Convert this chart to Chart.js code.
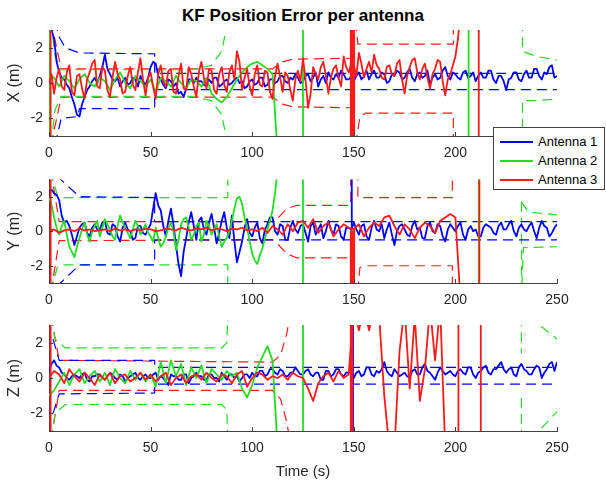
<!DOCTYPE html>
<html>
<head>
<meta charset="utf-8">
<script src="https://cdn.jsdelivr.net/npm/chart.js@4.4.1/dist/chart.umd.min.js"></script>
<style>
  body { margin: 0; background: #fff; }
  #wrap { position: relative; width: 606px; height: 485px; font-family: 'Liberation Sans', Arial, sans-serif; }
  canvas { position: absolute; left: 0; }
  #title { position: absolute; left: 0; top: 5px; width: 606px; text-align: center; font-weight: bold; font-size: 17px; line-height: 22px; color: #000; }
  #legend { position: absolute; left: 493px; top: 127px; width: 110px; height: 61px; background: #fff; border: 1px solid #404040; font-size: 13px; color: #000; z-index: 5; }
  .item { position: absolute; left: 0; width: 110px; height: 18px; line-height: 18px; }
  .swatch { position: absolute; left: 6px; top: 8px; width: 33px; height: 0; border-top: 2px solid; }
  .lbl { position: absolute; left: 44px; white-space: nowrap; }
</style>
</head>
<body>
<div id="wrap">
  <div id="title">KF Position Error per antenna</div>
  <canvas id="cx" width="606" height="165" style="top:0px"></canvas>
  <canvas id="cy" width="606" height="145" style="top:165px"></canvas>
  <canvas id="cz" width="606" height="175" style="top:310px"></canvas>
  <div id="legend"></div>
</div>
<script>
// ---- data ----
const antennaNames = ['Antenna 1', 'Antenna 2', 'Antenna 3'];
const antennaColors = ['#0000ff', '#22dd22', '#ff1a1a'];
const fineStep = 1.25;         // s between samples, dense series
const coarseStep = 2.5;        // s between samples, other series
const xTickLabels = [0, 50, 100, 150, 200, 250];
const yTickLabels = [-2, 0, 2];

// X error (m)
const xAnt1 = [2.8, 3.0, 2.5, 1.2, 0.6, 0.3, 0.2, -0.1, -0.3, -0.8,
  -1.2, -1.8, -1.9, -1.2, -0.8, -0.4, -0.2, 0.1, 0.3, 0.0,
  0.4, 0.9, 1.6, 0.8, 0.5, 0.2, 0.1, 0.3, -0.2, 0.1,
  0.3, -0.1, 0.0, 0.3, 0.2, -0.2, 0.4, 0.1, -0.1, 0.3,
  0.9, 1.2, 1.1, 0.4, 0.2, -0.1, -0.3, 0.2, 0.1, -0.2,
  0.0, -0.6, -0.5, -0.8, -0.3, 0.2, 0.2, 0.0, 0.3, 0.1,
  0.1, -0.1, -0.2, 0.2, 0.0, 0.3, 0.3, -0.2, -0.1, 0.1,
  0.2, -0.1, 0.0, 0.2, 0.3, 0.0, 0.1, -0.3, -0.2, 0.1,
  0.2, -0.1, 0.0, 0.3, 0.3, -0.2, -0.1, 0.2, 0.2, 0.0,
  0.1, 0.4, 0.4, 0.1, 0.0, 0.3, 0.2, 0.5, 0.3, 0.0,
  0.1, 0.4, 0.5, 0.1, 0.3, 0.6, -0.2, 0.2, 0.4, 0.0,
  0.6, 0.3, 0.2, 0.5, 0.3, 0.7, 0.5, 0.2, 0.2, 0.4,
  0.1, 0.4, 0.6, 0.2, 0.4, 0.7, 0.2, 0.5, 0.7, 0.3,
  0.3, 0.6, 0.5, 0.0, 0.1, 0.5, 0.4, 0.7, 0.6, 0.2,
  0.3, 0.6, 0.8, 0.3, 0.1, 0.5, 0.6, 0.3, 0.4, 0.7,
  -0.1, 0.3, 0.5, 0.2, 0.3, 0.7, 0.9, 0.4, 0.2, 0.6,
  0.5, 0.3, 0.2, 0.6, 0.7, 0.3, 0.4, 0.6, 0.1, 0.4,
  0.6, 0.3, 0.3, 0.7, 0.7, 0.2, 0.0, 0.4, 0.4, 0.1,
  -0.4, 0.2, 0.3, 0.6, 0.6, 0.2, 0.1, 0.5, 0.7, 0.3,
  0.3, 0.8, 0.8, 0.4, 0.2, 0.6, 0.5, 0.9, 1.0, 0.3,
  0.4];
const xAnt2 = [0.5, 0.3, -0.2, 0.4, 0.1, -0.3, 0.2, 0.5, 0.0, -0.2,
  0.3, 0.1, -0.4, 0.2, 0.6, 0.0, -0.3, 0.4, 0.1, -0.2,
  0.2, -0.5, 0.3, 0.1, -0.2, 0.4, 0.0, -0.3, 0.2, 0.1,
  -0.2, 0.3, -0.6, -0.9, -1.1, -0.8, -0.3, 0.2, 0.6, 0.9,
  1.1, 1.2, 1.0, 0.8, 0.5, -4];
const xAnt3 = [0.0, 0.5, -0.6, 0.3, 0.8, -0.2, -0.4, 0.6, 1.0, -0.5,
  -0.7, 0.4, 0.5, -0.3, -0.9, 0.2, 0.6, 1.1, 1.3, -0.2,
  -0.3, 0.9, 0.7, -0.4, -0.8, 0.3, 1.2, 0.5, 0.2, -0.6,
  -0.5, 0.4, 0.9, -0.1, -0.4, 0.6, 1.4, 0.2, -0.7, 0.3,
  0.6, -0.2, -0.9, 0.5, 1.0, 0.1, -0.2, 0.7, 0.8, -0.5,
  -0.6, 0.4, 1.1, -0.3, -0.4, 0.9, 0.5, -0.2, -0.8, 0.6,
  1.2, 0.3, -0.3, 0.8, 0.7, -0.4, -0.6, 0.5, 0.9, -0.1,
  -0.5, 0.6, 1.0, 0.2, 1.8, 1.2, -0.4, 0.3, 0.8, -0.2,
  -0.7, 0.5, 1.0, -0.1, -0.2, 0.7, 0.6, -0.5, -0.9, 0.4,
  1.1, 0.3, -0.5, 0.6, 0.4, -0.4, -1.0, 0.2, 0.7, 0.1,
  1.4, 0.2, -1.4, -0.6, 0.9, 0.5, 0.2, 0.9, 1.2, 0.4,
  -0.6, 0.3, 0.8, 1.0, 0.3, -0.2, 1.5, 0.9, 0.6, 1.1,
  1.0, 0.4, 1.7, 1.1, 0.3, 0.8, 1.2, 0.6, 1.6, 1.0,
  0.8, 0.3, 0.2, 0.9, 1.0, 0.5, 0.4, 1.1, 1.3, 0.2,
  -0.6, 0.4, 0.9, 1.3, 1.4, 0.6, 0.2, 0.8, 1.1, 0.3,
  -0.3, 0.5, 0.8, 1.3, 1.2, 0.1, -0.7, 0.2, 0.5, 1.0,
  1.5, 2.5, 4];
// off-scale jumps: [time, from, to]
const xAnt1Jumps = [[149, 0.3, -4]];
const xAnt2Jumps = [[0.3, 4, -4], [125, 4, -4], [206.5, 4, -4]];
const xAnt3Jumps = [[0.8, 4, -4], [148.5, 4, -4], [149.3, 4, -4], [150.2, 4, -4], [211.5, 4, -4]];
// dashed bounds: [time, value], null = gap
const xAnt1Upper = [[3, 3.5], [5, 2.6], [8, 2.0], [15, 1.7], [52, 1.65], [52, 0.55], [250, 0.55]];
const xAnt1Lower = [[3, -3.5], [6, -2.0], [14, -1.9], [15, -1.45], [52, -1.45], [52, -0.38], [250, -0.38]];
const xAnt2Upper = [[1, 3.5], [3, 1.5], [6, 0.75], [70, 0.75], [80, 1.0], [85, 1.8], [88, 3.5], null, [233, 3.5], [233, 1.8], [240, 1.5], [250, 1.3]];
const xAnt2Lower = [[1, -3.5], [3, -1.5], [6, -0.75], [70, -0.75], [80, -1.0], [85, -1.8], [88, -3.5], null, [233, -3.5], [233, -1.0], [240, -1.0], [250, -0.9]];
const xAnt3Upper = [[1, 3.5], [6, 0.8], [110, 0.8], [115, 1.2], [120, 1.35], [148, 1.4], null, [151, 3.5], [152, 2.2], [199, 2.2], [199, 3.5]];
const xAnt3Lower = [[1, -3.5], [6, -0.8], [110, -0.8], [115, -1.2], [120, -1.35], [148, -1.4], null, [151, -3.5], [153, -1.9], [156, -1.7], [199, -1.7], [199, -3.5]];

// Y error (m)
const yAnt1 = [2.3, 2.4, 2.2, 2.1, 1.8, 0.9, 0.5, 0.6, 0.3, -0.2,
  -0.8, -0.3, 0.2, 0.4, 0.5, -0.1, -0.3, 0.2, 0.4, 0.1,
  0.1, 0.5, 0.6, -0.1, -0.2, 0.4, 0.3, -0.3, -0.6, 0.2,
  0.5, 0.1, 0.0, -0.5, -0.4, 0.3, 0.3, -0.1, -0.2, 0.1,
  0.4, 1.3, 2.2, 1.5, 1.2, 0.3, -0.3, 0.6, 1.3, 0.4,
  -0.8, -1.9, -2.6, -1.2, -0.4, 0.5, 1.1, 0.3, -0.5, 0.6,
  0.8, 0.1, -0.2, 0.5, 1.0, 0.2, -0.7, -0.1, 0.6, 1.1,
  0.2, -0.4, 0.9, -0.6, -1.8, -1.2, -0.6, 0.2, 0.7, -0.1,
  -0.3, 0.2, 0.5, -0.4, -0.7, 0.1, 0.4, 0.8, 0.8, 0.0,
  -0.2, 0.4, 0.3, -0.5, -0.5, 0.2, 0.6, 0.1, -0.1, 0.3,
  0.4, -0.1, -0.6, 0.3, 0.5, -0.2, 0.1, 0.4, -0.4, 0.0,
  0.6, 0.1, -0.2, 0.4, 0.3, -0.3, -0.5, 0.2, 0.2, 0.1,
  0.5, 0.1, -0.2, 0.3, 0.4, -0.3, -0.5, 0.2, 0.6, 0.1,
  0.0, 0.4, -0.4, 0.1, 0.5, -0.2, -0.8, 0.0, 0.3, 0.4,
  0.1, -0.2, -0.3, 0.3, 0.6, 0.1, 0.2, -0.4, -0.4, 0.3,
  0.5, 0.0, -0.1, 0.4, 0.3, -0.3, -0.6, 0.1, 0.4, 0.2,
  0.0, 0.3, 0.5, -0.2, -0.5, 0.1, 0.3, 0.0, 0.1, -0.3,
  -0.3, 0.2, 0.4, 0.3, 0.2, -0.1, -0.2, 0.3, 0.5, 0.1,
  0.1, 0.4, 0.6, 0.0, -0.3, 0.2, 0.4, 0.1, 0.0, 0.3,
  0.5, 0.0, -0.4, 0.2, 0.6, 0.3, 0.2, -0.3, -0.1, 0.2,
  0.4];
const yAnt2 = [2.0, 1.5, 0.8, 0.2, -0.2, 0.3, 0.6, -0.2, -0.9, -1.2,
  -1.5, -0.9, -0.4, 0.1, 0.5, -0.2, -0.6, 0.0, 0.3, 0.6,
  -0.3, 0.2, 0.7, 0.4, 0.1, -0.3, -0.5, 0.3, 0.9, 0.5,
  0.2, -0.1, -0.4, 0.1, 0.6, 0.3, -0.2, 0.1, 0.4, -0.1,
  -0.3, -0.6, 0.2, -0.4, -0.9, -0.7, -0.3, 0.2, 0.5, 0.0,
  -1.1, -0.5, 0.4, 0.7, 0.8, 0.2, -0.5, -0.2, 0.3, 0.5,
  -0.6, -0.2, 0.6, 0.3, -0.2, 0.1, 0.4, -0.3, -0.9, -0.6,
  -0.4, 0.0, 0.6, 1.3, 1.9, 2.0, 1.6, 0.8, 0.2, -0.6,
  -1.3, -1.7, -1.9, -1.4, -1.0, -0.4, 0.1, 0.6, 1.2, 2.2,
  3.5];
const yAnt3 = [0.0, 0.1, -0.1, 0.05, 0.1, 0.0, 0.15, 0.05, 0.1, 0.0,
  0.05, 0.1, 0.0, 0.15, 0.05, 0.1, 0.0, 0.1, 0.05, 0.15,
  0.1, 0.0, 0.05, 0.15, 0.1, 0.05, 0.2, 0.1, 0.05, 0.15,
  0.1, 0.2, 0.05, 0.15, 0.1, 0.0, 0.15, 0.1, 0.2, 0.05,
  0.1, 0.0, 0.2, -0.1, 0.3, 0.1, -0.2, 0.4, 0.0, 0.5,
  0.6, 0.2, 0.7, -0.1, 0.3, 0.5, -0.3, 0.1, 0.4, 0.2,
  0.1, 0.4, -0.3, 0.2, 0.5, 0.3, 0.8, 0.9, 0.3, -0.2,
  0.4, 0.1, -0.4, 0.2, 0.5, 0.3, -0.1, 0.6, 0.8, 1.0,
  0.8, -4];
const yAnt1Jumps = [[149, 0.2, 4]];
const yAnt2Jumps = [[125, 4, -4], [211.5, 4, -4]];
const yAnt3Jumps = [[0.8, 4, -4], [148.5, 0, -4], [149.3, 0, -4], [150.2, 0.1, -4], [211.8, 4, -4]];
const yAnt1Upper = [[3.8, 3.2], [15, 2.0], [52, 1.95], [52, 0.55], [250, 0.55]];
const yAnt1Lower = [[3.8, -3.2], [15, -1.95], [52, -1.95], [52, -0.5], [250, -0.5]];
const yAnt2Upper = [[1, 3.5], [4, 2.1], [6, 1.95], [88, 1.95], [88, 3.5], null, [232.5, 1.7], [236, 1.1], [250, 0.95]];
const yAnt2Lower = [[1, -3.5], [4, -2.1], [6, -1.95], [88, -1.95], [88, -3.5], null, [232.5, 1.7], [232.6, -3.5], [233.5, -0.95], [250, -0.9]];
const yAnt3Upper = [[1, 3.5], [5, 0.55], [110, 0.55], [113, 0.8], [117, 1.3], [122, 1.5], [148.5, 1.5], [148.5, 3.5], null, [152, 3.5], [152, 1.95], [198.5, 1.95], [198.5, 3.5]];
const yAnt3Lower = [[1, -3.5], [5, -0.55], [110, -0.5], [113, -0.8], [117, -1.3], [122, -1.55], [148.5, -1.55], null, [152, -3.5], [153, -2.1], [155, -2.0], [198.5, -2.0], [198.5, -3.5]];

// Z error (m)
const zAnt1 = [0.3, 0.8, 1.0, 0.7, 0.6, 0.3, 0.2, 0.0, -0.1, 0.1,
  0.2, 0.1, 0.0, 0.2, 0.3, -0.1, -0.2, 0.1, 0.1, 0.2,
  0.2, 0.0, -0.1, 0.1, 0.3, 0.2, 0.0, -0.1, 0.2, 0.1,
  -0.2, 0.0, 0.1, 0.2, 0.3, 0.0, -0.1, 0.1, 0.2, 0.0,
  0.0, 0.2, 0.3, -0.1, 0.1, 0.0, -0.2, -0.4, 0.2, 0.1,
  0.1, -0.1, -0.1, 0.2, 0.2, -0.3, 0.0, 0.1, 0.3, 0.1,
  0.1, -0.1, -0.1, 0.2, 0.2, 0.0, 0.0, -0.2, 0.3, 0.1,
  -0.1, 0.2, 0.2, 0.0, 0.1, -0.2, 0.0, 0.2, 0.2, 0.0,
  0.3, 0.1, 0.1, 0.4, 0.4, 0.1, 0.2, 0.5, 0.5, 0.3,
  0.2, 0.5, 0.4, 0.1, 0.1, 0.3, 0.3, 0.6, 0.4, 0.2,
  0.2, 0.4, 0.5, 0.2, 0.1, 0.3, 0.3, -0.1, -0.1, 0.4,
  0.4, 0.1, 0.2, 0.5, 0.5, 0.2, 0.1, 0.3, 0.3, 0.5,
  0.0, 0.3, 0.4, 0.1, 0.2, 0.6, 0.6, 0.2, 0.1, 0.4,
  0.3, 0.5, 0.9, 0.4, 0.2, 0.1, 0.5, 0.3, 0.1, 0.2,
  0.3, 0.1, 0.0, 0.4, 0.5, 0.2, 0.2, 0.6, 0.8, 0.4,
  0.3, 0.1, -0.1, 0.3, 0.6, 0.4, 0.2, 0.3, 0.4, 0.2,
  0.1, 0.4, 0.5, 0.3, 0.2, 0.6, 0.6, 0.2, 0.0, 0.3,
  0.4, 0.6, 0.7, 0.3, 0.2, 0.5, 0.5, 0.7, 0.9, 0.5,
  0.3, 0.5, 0.6, 0.2, 0.1, 0.6, 0.8, 0.5, 0.4, 0.2,
  0.2, 0.5, 0.7, 0.6, 0.0, 0.3, 0.5, 0.8, 0.9, 0.4,
  0.9];
const zAnt2 = [-1.0, -0.7, -0.2, 0.3, -0.4, 0.2, 0.5, -0.3, 0.1, 0.4,
  -0.2, 0.3, -0.4, 0.5, 0.0, -0.3, 0.4, -0.1, 0.3, -0.2,
  0.2, -0.5, 0.9, -0.3, 1.0, 0.1, 0.8, -0.4, 0.6, 0.0,
  0.7, -0.3, 0.5, 0.2, -0.1, 0.4, 0.1, 0.3, -0.6, -1.1,
  -0.4, 0.6, 1.2, 1.8, 1.0, -4];
const zAnt3 = [0.0, 0.4, 0.2, -0.3, 0.5, 0.1, -0.2, 0.3, 0.0, -0.4,
  0.2, -0.1, 0.3, -0.3, 0.1, 0.2, -0.2, 0.0, 0.3, -0.1,
  0.2, -0.2, 0.1, 0.3, -0.4, 0.0, 0.2, -0.3, 0.1, 0.2,
  -0.1, 0.3, 0.0, -0.2, 0.2, 0.1, -0.3, 0.2, 0.4, -0.5,
  0.0, 0.3, 0.2, -0.1, 0.1, 0.0, 0.2, -0.1, 0.3, 0.1,
  0.0, -0.6, -1.3, -0.3, 0.1, 0.3, -0.2, 0.4, 0.0, 0.2,
  4, 2.7, 4, 2.7, 4, 3.5, -1.0, -4, -4, 1.5,
  4, -0.6, 3.5, -1.3, 0.5, 4, 1.0, 4, -4, -4];
const zAnt1Jumps = [[149.6, 4, -4]];
const zAnt2Jumps = [[125, 4, -4]];
const zAnt3Jumps = [[0.8, 4, -4], [148.5, 4, -4], [149.3, 4, -4], [201.5, 4, -4], [212.5, 4, -4]];
const zAnt1Upper = [[2, 2.2], [5, 1.0], [52, 1.0], [52, 0.6], [250, 0.6]];
const zAnt1Lower = [[2, -2.0], [5, -0.9], [52, -0.85], [52, -0.35], [250, -0.35]];
const zAnt2Upper = [[1, 3.5], [3, 2.2], [8, 1.7], [85, 1.7], [87.5, 2.0], [88, 3.5], null, [232.5, 3.5], [232.5, 1.4], null, [236, 3.5], [250, 2.2]];
const zAnt2Lower = [[1, -3.5], [3, -2.0], [8, -1.5], [85, -1.5], [87.5, -1.8], [88, -3.5], null, [232.5, -3.5], [232.5, -1.1], null, [237, -3.5], [250, -1.9]];
const zAnt3Upper = [[1, 3.5], [5, 1.0], [110, 0.9], [114, 1.3], [117, 2.5], [118.5, 3.5]];
const zAnt3Lower = [[1, -3.5], [5, -0.7], [110, -0.7], [114, -1.2], [117, -2.5], [118.5, -3.5]];

// ---- drawing ----
const FONT = "'Liberation Sans', Arial, sans-serif";
const axisColor = '#404040';

function samples(vals, step) {
  return vals.map((v, i) => ({ x: i * step, y: v }));
}
function jumps(list) {
  const pts = [];
  list.forEach(j => {
    pts.push({ x: j[0], y: j[1] }, { x: j[0], y: j[2] }, { x: j[0], y: null });
  });
  return pts;
}
function bound(list) {
  let last = 0;
  return list.map(p => {
    if (!p) return { x: last, y: null };
    last = p[0];
    return { x: p[0], y: p[1] };
  });
}

const innerTicks = {
  id: 'innerTicks',
  afterDraw(chart) {
    const { ctx, chartArea: a, scales } = chart;
    ctx.save();
    ctx.strokeStyle = axisColor;
    ctx.lineWidth = 1;
    ctx.beginPath();
    scales.x.ticks.forEach(t => {
      const px = Math.round(scales.x.getPixelForValue(t.value)) + 0.5;
      ctx.moveTo(px, a.bottom); ctx.lineTo(px, a.bottom - 4);
    });
    scales.y.ticks.forEach(t => {
      const py = Math.round(scales.y.getPixelForValue(t.value)) + 0.5;
      ctx.moveTo(a.left, py); ctx.lineTo(a.left + 4, py);
    });
    ctx.stroke();
    ctx.restore();
  }
};

function panel(id, yTitle, series, padTop, xHeight, xTitle) {
  const datasets = [];
  series.forEach((s, k) => {
    const col = antennaColors[k];
    const ord = 2 - k;   // antenna 3 drawn on top
    datasets.push({ data: samples(s.vals, s.step), borderColor: col, borderWidth: 1.8, order: ord });
    datasets.push({ data: jumps(s.jumps), borderColor: col, borderWidth: 1.8, order: ord });
    datasets.push({ data: bound(s.upper), borderColor: col, borderWidth: 1.2, borderDash: [10, 6], order: 3 });
    datasets.push({ data: bound(s.lower), borderColor: col, borderWidth: 1.2, borderDash: [10, 6], order: 3 });
  });
  return new Chart(document.getElementById(id), {
    type: 'line',
    data: { datasets },
    options: {
      responsive: false,
      animation: false,
      events: [],
      layout: { padding: { top: padTop, right: 49, left: 0, bottom: 0 } },
      elements: { point: { radius: 0 }, line: { tension: 0, fill: false, borderJoinStyle: 'round' } },
      plugins: { legend: { display: false }, tooltip: { enabled: false } },
      scales: {
        x: {
          type: 'linear', min: 0, max: 250,
          grid: { display: false, drawTicks: false },
          border: { display: true, color: axisColor, width: 1 },
          afterBuildTicks: s => { s.ticks = xTickLabels.map(v => ({ value: v })); },
          ticks: { padding: 9, color: '#262626', font: { family: FONT, size: 14 }, maxRotation: 0 },
          title: { display: !!xTitle, text: xTitle || '', color: '#262626', font: { family: FONT, size: 15 }, padding: { top: 0, bottom: 4 } },
          afterFit: s => { s.height = xHeight; }
        },
        y: {
          min: -3, max: 3,
          grid: { display: false, drawTicks: false },
          border: { display: true, color: axisColor, width: 1 },
          afterBuildTicks: s => { s.ticks = yTickLabels.map(v => ({ value: v })); },
          ticks: { padding: 6, color: '#262626', font: { family: FONT, size: 14 } },
          title: { display: true, text: yTitle, color: '#262626', font: { family: FONT, size: 16 }, padding: { top: 5, bottom: 0 } },
          afterFit: s => { s.width = 49; }
        }
      }
    },
    plugins: [innerTicks]
  });
}

panel('cx', 'X (m)', [
  { vals: xAnt1, step: fineStep, jumps: xAnt1Jumps, upper: xAnt1Upper, lower: xAnt1Lower },
  { vals: xAnt2, step: coarseStep, jumps: xAnt2Jumps, upper: xAnt2Upper, lower: xAnt2Lower },
  { vals: xAnt3, step: fineStep, jumps: xAnt3Jumps, upper: xAnt3Upper, lower: xAnt3Lower }
], 30, 29, '');
panel('cy', 'Y (m)', [
  { vals: yAnt1, step: fineStep, jumps: yAnt1Jumps, upper: yAnt1Upper, lower: yAnt1Lower },
  { vals: yAnt2, step: fineStep, jumps: yAnt2Jumps, upper: yAnt2Upper, lower: yAnt2Lower },
  { vals: yAnt3, step: coarseStep, jumps: yAnt3Jumps, upper: yAnt3Upper, lower: yAnt3Lower }
], 12, 27, '');
panel('cz', 'Z (m)', [
  { vals: zAnt1, step: fineStep, jumps: zAnt1Jumps, upper: zAnt1Upper, lower: zAnt1Lower },
  { vals: zAnt2, step: coarseStep, jumps: zAnt2Jumps, upper: zAnt2Upper, lower: zAnt2Lower },
  { vals: zAnt3, step: coarseStep, jumps: zAnt3Jumps, upper: zAnt3Upper, lower: zAnt3Lower }
], 15, 54, 'Time (s)');

// legend
const legend = document.getElementById('legend');
antennaNames.forEach((name, k) => {
  const item = document.createElement('div');
  item.className = 'item';
  item.style.top = (5 + k * 19) + 'px';
  item.innerHTML = '<span class="swatch" style="border-color:' + antennaColors[k] + '"></span><span class="lbl">' + name + '</span>';
  legend.appendChild(item);
});
</script>
</body>
</html>
